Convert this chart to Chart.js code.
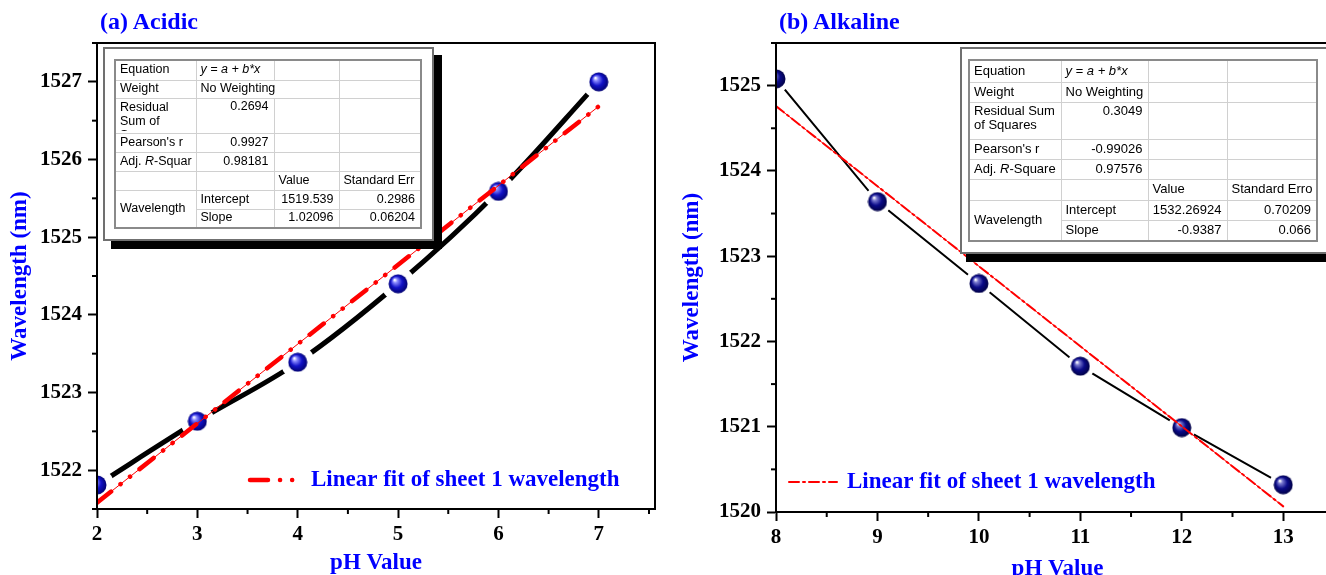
<!DOCTYPE html>
<html lang="en">
<head>
<meta charset="UTF-8">
<title>Resonance wavelength vs pH</title>
<script src="https://cdn.jsdelivr.net/npm/chart.js"></script>
<style>
    html, body { margin: 0; padding: 0; background: #fff; overflow: hidden; }
    body { width: 1326px; height: 575px; position: relative; font-family: "Liberation Sans", Arial, sans-serif; }
    .panel { position: absolute; top: 0; }
    .panel canvas { display: block; }
    .heading { position: absolute; top: 9px; font: bold 24px/1 "Liberation Serif", "Times New Roman", serif; color: #0000ff; white-space: nowrap; }
    .frame { position: absolute; background: #fff; border: 2px solid #707070; box-sizing: border-box; }
    .stats { position: absolute; border-collapse: collapse; table-layout: fixed; color: #000; border: 2px solid #8a8a8a; }
    .stats td { border: 1px solid #d0d0d0; padding: 0 4px; overflow: hidden; white-space: nowrap; line-height: 1.1; }
    .stats td.num { text-align: right; padding-right: 5px; }
    .stats tr.top td { vertical-align: top; padding-top: 1px; }
    .stats .wrap { white-space: normal; overflow: hidden; line-height: 14px; }
</style>
</head>
<body>
    <div class="panel" style="left:0;width:665px;height:575px"><canvas id="acidic" width="665" height="575"></canvas></div>
    <div class="panel" style="left:665px;width:690px;height:585px"><canvas id="alkaline" width="690" height="585"></canvas></div>

    <div class="heading" style="left:100px">(a) Acidic</div>
    <div class="heading" style="left:779px">(b) Alkaline</div>

    <!-- fit report, acidic -->
    <div class="frame" style="left:103px;top:47px;width:331px;height:194px;box-shadow:8px 8px 0 #000">
        <table class="stats" style="left:9px;top:10px;width:306px;font-size:12.5px">
            <colgroup><col style="width:81px"><col style="width:78px"><col style="width:65px"><col style="width:82px"></colgroup>
            <tr style="height:20px"><td>Equation</td><td><i>y = a + b*x</i></td><td></td><td></td></tr>
            <tr style="height:18px"><td>Weight</td><td colspan="2">No Weighting</td><td></td></tr>
            <tr style="height:35px" class="top"><td><div class="wrap" style="height:31px">Residual Sum of Squares</div></td><td class="num">0.2694</td><td></td><td></td></tr>
            <tr style="height:19px"><td>Pearson's r</td><td class="num">0.9927</td><td></td><td></td></tr>
            <tr style="height:19px"><td>Adj. <i>R</i>-Squar</td><td class="num">0.98181</td><td></td><td></td></tr>
            <tr style="height:19px"><td></td><td></td><td>Value</td><td>Standard Err</td></tr>
            <tr style="height:19px"><td rowspan="2">Wavelength</td><td>Intercept</td><td class="num" id="intA"></td><td class="num">0.2986</td></tr>
            <tr style="height:19px"><td>Slope</td><td class="num" id="slopeA"></td><td class="num">0.06204</td></tr>
        </table>
    </div>

    <!-- fit report, alkaline -->
    <div class="frame" style="left:960px;top:47px;width:400px;height:207px;box-shadow:6px 8px 0 #000">
        <table class="stats" style="left:6px;top:10px;width:348px;font-size:13px">
            <colgroup><col style="width:92px"><col style="width:87px"><col style="width:79px"><col style="width:90px"></colgroup>
            <tr style="height:22px"><td>Equation</td><td><i>y = a + b*x</i></td><td></td><td></td></tr>
            <tr style="height:20px"><td>Weight</td><td>No Weighting</td><td></td><td></td></tr>
            <tr style="height:37px" class="top"><td><div class="wrap" style="height:35px">Residual Sum of Squares</div></td><td class="num">0.3049</td><td></td><td></td></tr>
            <tr style="height:20px"><td>Pearson's r</td><td class="num">-0.99026</td><td></td><td></td></tr>
            <tr style="height:20px"><td>Adj. <i>R</i>-Square</td><td class="num">0.97576</td><td></td><td></td></tr>
            <tr style="height:21px"><td></td><td></td><td>Value</td><td>Standard Erro</td></tr>
            <tr style="height:20px"><td rowspan="2">Wavelength</td><td>Intercept</td><td class="num" id="intB"></td><td class="num">0.70209</td></tr>
            <tr style="height:21px"><td>Slope</td><td class="num" id="slopeB"></td><td class="num">0.066</td></tr>
        </table>
    </div>

<script>
    // measured resonance wavelength (nm) against pH
    const phAcidic = [2, 3, 4, 5, 6, 7];
    const wlAcidic = [1521.81, 1522.63, 1523.39, 1524.40, 1525.59, 1527.00];
    const phAlkaline = [8, 9, 10, 11, 12, 13];
    const wlAlkaline = [1525.08, 1523.64, 1522.68, 1521.71, 1520.99, 1520.32];

    // linear fit y = a + b*x
    const fitAcidic = { intercept: 1519.539, slope: 1.02096 };
    const fitAlkaline = { intercept: 1532.26924, slope: -0.9387 };

    // axis tick labels
    const xTicksAcidic = [2, 3, 4, 5, 6, 7];
    const yTicksAcidic = [1522, 1523, 1524, 1525, 1526, 1527];
    const xTicksAlkaline = [8, 9, 10, 11, 12, 13];
    const yTicksAlkaline = [1520, 1521, 1522, 1523, 1524, 1525];

    const fitLabel = 'Linear fit of sheet 1 wavelength';
    const SERIF = '"Liberation Serif", "Times New Roman", serif';
    const BLUE = '#0000ff';

    document.getElementById('intA').textContent = fitAcidic.intercept;
    document.getElementById('slopeA').textContent = fitAcidic.slope;
    document.getElementById('intB').textContent = fitAlkaline.intercept;
    document.getElementById('slopeB').textContent = fitAlkaline.slope;

    // shaded ball used as the point marker
    function sphere(light, mid, dark) {
        const r = 10;
        const c = document.createElement('canvas');
        c.width = c.height = 2 * r;
        const g = c.getContext('2d');
        const grad = g.createRadialGradient(r - 3.5, r - 4, 0.5, r, r, r);
        grad.addColorStop(0, '#ffffff');
        grad.addColorStop(0.18, light);
        grad.addColorStop(0.55, mid);
        grad.addColorStop(1, dark);
        g.fillStyle = grad;
        g.beginPath();
        g.arc(r, r, r - 0.5, 0, Math.PI * 2);
        g.fill();
        return c;
    }

    // half-step ticks between the labelled ones
    const minorTicks = {
        id: 'minorTicks',
        afterDraw(chart) {
            const ctx = chart.ctx;
            ctx.save();
            ctx.strokeStyle = '#000';
            ctx.lineWidth = 2;
            ['x', 'y'].forEach(id => {
                const s = chart.scales[id];
                const vals = s.ticks.map(t => t.value);
                const step = vals[1] - vals[0];
                const mids = [vals[0] - step / 2].concat(vals.map(v => v + step / 2))
                    .filter(v => v >= s.min && v <= s.max);
                mids.forEach(v => {
                    const p = s.getPixelForValue(v);
                    ctx.beginPath();
                    if (id === 'x') { ctx.moveTo(p, s.top); ctx.lineTo(p, s.top + 5); }
                    else { ctx.moveTo(s.right, p); ctx.lineTo(s.right - 5, p); }
                    ctx.stroke();
                });
            });
            ctx.restore();
        }
    };

    // top and right edges of the plot box
    const frameBox = {
        id: 'frameBox',
        afterDraw(chart) {
            const a = chart.chartArea, ctx = chart.ctx;
            ctx.save();
            ctx.strokeStyle = '#000';
            ctx.lineWidth = 2;
            ctx.beginPath();
            ctx.moveTo(a.left, a.top);
            ctx.lineTo(a.right, a.top);
            ctx.lineTo(a.right, a.bottom);
            ctx.stroke();
            ctx.restore();
        }
    };

    // legend entry for the fit line, inside the plot
    const fitLegend = {
        id: 'fitLegend',
        afterDraw(chart, args, opts) {
            const ds = chart.data.datasets[0];
            const ctx = chart.ctx;
            ctx.save();
            ctx.strokeStyle = ds.borderColor;
            ctx.lineWidth = ds.borderWidth;
            ctx.lineCap = 'round';
            ctx.setLineDash(ds.borderDash);
            ctx.beginPath();
            ctx.moveTo(opts.x0, opts.y);
            ctx.lineTo(opts.x1, opts.y);
            ctx.stroke();
            ctx.setLineDash([]);
            ctx.fillStyle = BLUE;
            ctx.font = 'bold 23px ' + SERIF;
            ctx.textBaseline = 'middle';
            ctx.fillText(ds.label, opts.textX, opts.y);
            ctx.restore();
        }
    };

    function axis(o) {
        return {
            type: 'linear',
            min: o.min,
            max: o.max,
            afterBuildTicks: s => { s.ticks = o.ticks.map(v => ({ value: v })); },
            afterFit: s => {
                if (o.width) s.width = o.width;
                if (o.height) s.height = o.height;
                s.paddingLeft = s.paddingRight = s.paddingTop = s.paddingBottom = 0;
            },
            ticks: {
                color: '#000',
                font: { family: SERIF, size: 21, weight: 'bold' },
                padding: o.pad,
                autoSkip: false,
                maxRotation: 0,
                callback: v => String(v)
            },
            grid: { drawOnChartArea: false, drawTicks: true, tickLength: 9, tickWidth: 2, tickColor: '#000', z: 1 },
            border: { color: '#000', width: 2, z: 1 },
            title: {
                display: true,
                text: o.title,
                color: BLUE,
                font: { family: SERIF, size: 23, weight: 'bold', lineHeight: 1 },
                padding: o.titlePad
            }
        };
    }

    function buildChart(id, o) {
        const pts = o.ph.map((x, i) => ({ x: x, y: o.wl[i] }));
        const ends = [o.ph[0], o.ph[o.ph.length - 1]];
        const fitPts = ends.map(x => ({ x: x, y: o.fit.intercept + o.fit.slope * x }));
        return new Chart(document.getElementById(id), {
            type: 'scatter',
            data: {
                datasets: [
                    { label: fitLabel, data: fitPts, showLine: true, borderColor: '#ff0000', borderWidth: o.fitWidth,
                      borderDash: o.fitDash, borderCapStyle: 'round', pointRadius: 0, order: 0 },
                    { label: 'fit', data: fitPts, showLine: true, borderColor: '#ff0000', borderWidth: 1,
                      pointRadius: 0, order: 1 },
                    { label: 'Wavelength', data: pts, pointStyle: o.marker, pointRadius: 10, clip: 0, order: 2 },
                    // white discs under the balls so the trend line stops short of each point
                    { label: 'gap', data: pts, pointRadius: o.gap, pointBackgroundColor: '#fff',
                      pointBorderColor: '#fff', pointBorderWidth: 0, clip: 0, order: 3 },
                    { label: 'trend', data: pts, showLine: true, borderColor: '#000', borderWidth: o.lineWidth,
                      cubicInterpolationMode: o.smooth ? 'monotone' : 'default', tension: 0,
                      pointRadius: 0, order: 4 }
                ]
            },
            options: {
                responsive: false,
                animation: false,
                events: [],
                // the big gap discs would otherwise widen the padding
                layout: { padding: o.padding, autoPadding: false },
                plugins: {
                    legend: { display: false },
                    tooltip: { enabled: false },
                    fitLegend: o.legend
                },
                scales: {
                    x: axis(o.x),
                    y: axis(o.y)
                }
            },
            plugins: [minorTicks, frameBox, fitLegend]
        });
    }

    buildChart('acidic', {
        ph: phAcidic, wl: wlAcidic, fit: fitAcidic,
        marker: sphere('#8c8cff', '#1212c8', '#00006a'),
        lineWidth: 5, smooth: true, gap: 17,
        fitWidth: 4.5, fitDash: [18, 12, 0.1, 12, 0.1, 12],
        padding: { top: 43, right: 10, left: 0, bottom: 0 },
        legend: { x0: 250, x1: 300, y: 480, textX: 311 },
        x: { min: 2, max: 7.56, ticks: xTicksAcidic, height: 66, pad: 4, title: 'pH Value', titlePad: { top: 0, bottom: 0 } },
        y: { min: 1521.5, max: 1527.5, ticks: yTicksAcidic, width: 97, pad: 6, title: 'Wavelength (nm)', titlePad: { top: 9, bottom: 0 } }
    });

    buildChart('alkaline', {
        ph: phAlkaline, wl: wlAlkaline, fit: fitAlkaline,
        marker: sphere('#7a7ad0', '#0a0a88', '#000040'),
        lineWidth: 2, smooth: false, gap: 14,
        fitWidth: 2, fitDash: [10, 4, 2, 4],
        padding: { top: 43, right: 16, left: 0, bottom: 0 },
        legend: { x0: 124, x1: 172, y: 482, textX: 182 },
        x: { min: 8, max: 13.55, ticks: xTicksAlkaline, height: 73, pad: 4, title: 'pH Value', titlePad: { top: 0, bottom: 4 } },
        y: { min: 1520, max: 1525.5, ticks: yTicksAlkaline, width: 111, pad: 6, title: 'Wavelength (nm)', titlePad: { top: 16, bottom: 0 } }
    });
</script>
</body>
</html>
